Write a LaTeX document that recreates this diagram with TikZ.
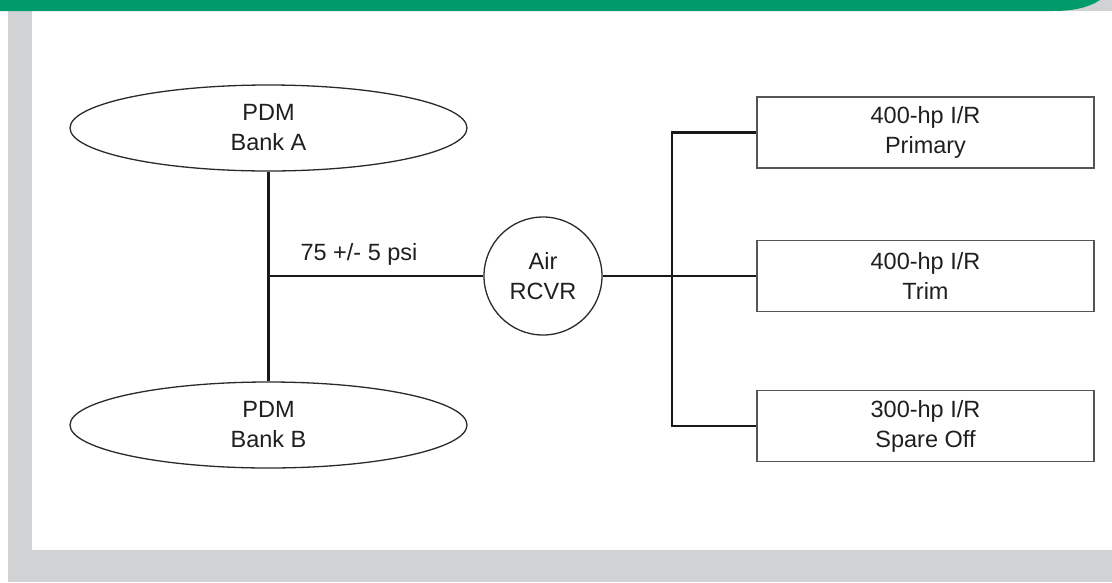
\documentclass[tikz,border=0pt]{standalone}
\usepackage{fontspec}
\setmainfont{Liberation Sans}
\usetikzlibrary{shapes.geometric}
\definecolor{hdrgreen}{HTML}{009B6B}
\definecolor{framegray}{HTML}{D1D2D4}
\definecolor{outline}{HTML}{2A2A2A}
\tikzset{
  lbl/.style={font=\fontsize{23.5}{30}\selectfont, text=black!88, align=center, inner sep=0pt},
  bank/.style={lbl, ellipse, draw=outline, line width=1.3pt, fill=white, minimum width=397pt, minimum height=86pt},
  rcvr/.style={lbl, circle, draw=outline, line width=1.3pt, fill=white, minimum size=118pt},
  comp/.style={lbl, rectangle, draw=outline!80, line width=1.5pt, fill=white, minimum width=337pt, minimum height=71pt},
  pipe/.style={draw=black!90, line width=2.2pt}
}
\begin{document}
\begin{tikzpicture}[x=1pt,y=-1pt]
\useasboundingbox (0,0) rectangle (1112,582);
% frame
\fill[white] (0,0) rectangle (1112,582);
\fill[framegray] (8,0) rectangle (1112,582);
\fill[white] (32,11) rectangle (1112,550);
\fill[hdrgreen] (0,0) -- (1100,0) .. controls (1088,8) and (1072,11) .. (1053,11) -- (0,11) -- cycle;
% nodes
\node[bank] (a) at (268.5,128) {PDM\\Bank A};
\node[bank] (b) at (268.5,425) {PDM\\Bank B};
\node[rcvr] (air) at (543,276) {Air\\RCVR};
\node[comp] (prim) at (925.5,132.5) {400-hp I/R\\Primary};
\node[comp] (trim) at (925.5,276) {400-hp I/R\\Trim};
\node[comp] (spare) at (925.5,426) {300-hp I/R\\Spare Off};
\coordinate (j1) at (268.5,276);
\coordinate (j2) at (672,276);
\node[lbl, anchor=base] (psi) at (359,260) {75 +/- 5 psi};
% connectors
\draw[pipe] (a.south) -- (b.north);
\draw[pipe] (j1) -- (air.west);
\draw[pipe] (air.east) -- (trim.west);
\draw[pipe] (prim.west) -| (j2) |- (spare.west);
\end{tikzpicture}
\end{document}
